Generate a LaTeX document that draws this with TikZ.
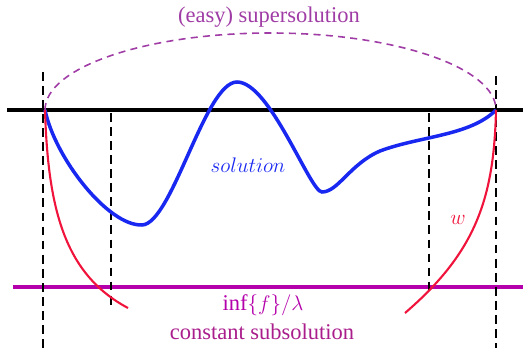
\documentclass[tikz,border=0pt]{standalone}
\usepackage{amsmath,amssymb}
\usepackage{fontspec}
\setmainfont{Liberation Serif}
\usepackage{tikz}
\usetikzlibrary{positioning}

\definecolor{solblue}{RGB}{25,40,240}
\definecolor{wred}{RGB}{240,20,60}
\definecolor{submag}{RGB}{180,0,170}
\definecolor{subtext}{RGB}{170,30,140}
\definecolor{superpurple}{RGB}{160,60,165}

\begin{document}
\begin{tikzpicture}[
  x=0.02cm, y=0.02cm,
  font=\fontsize{12.8}{15}\selectfont,
  guide/.style={dash pattern=on 5pt off 3pt, line width=0.7pt},
  domainline/.style={line width=2pt},
  solcurve/.style={solblue, line width=2pt},
  barrier/.style={wred, line width=1.2pt},
]
\useasboundingbox (0,0) rectangle (523,348);

% Domain and subsolution level
\draw[domainline] (7,238) coordinate (omL) -- (523,238) coordinate (omR);
\draw[submag, line width=2.6pt] (13,61) coordinate (subL) -- (523,61) coordinate (subR);

% Boundary and inner strips
\draw[guide] (43,276) coordinate (gA) -- (43,0) coordinate (gA');
\draw[guide] (111,235) coordinate (gB) -- (111,41) coordinate (gB');
\draw[guide] (429,235) coordinate (gC) -- (429,53) coordinate (gC');
\draw[guide] (496,272) coordinate (gD) -- (496,0) coordinate (gD');

% Supersolution
\coordinate (bL) at (45,238);
\coordinate (bR) at (496,238);
\draw[superpurple, dash pattern=on 4pt off 3pt, line width=0.9pt]
  (bL) arc[start angle=180, end angle=0, x radius=225.5, y radius=77];

% Solution
\coordinate (min1) at (142,123);
\coordinate (peak) at (237,266);
\coordinate (min2) at (322,156);
\draw[solcurve] (bL) .. controls (55,190) and (108,122) .. (min1)
  .. controls (172,124) and (205,266) .. (peak)
  .. controls (270,266) and (310,156) .. (min2)
  .. controls (338,156) and (350,184) .. (380,197)
  .. controls (420,212) and (470,212) .. (bR);

% Barriers w
\draw[barrier] (bL) .. controls (48,140) and (64,74) .. (128,40);
\draw[barrier] (bR) .. controls (494,150) and (476,96) .. (405,35);

% Labels
\node[superpurple] (superlbl) at (269,331) {(easy) supersolution};
\node (omega) at (323,253) {$\mathbf{\Omega}$};
\node[solblue] (sollbl) at (248,183) {$solution$};
\node[wred] (wlbl) at (458,128) {$w$};
\node[submag] (inflbl) at (263,43) {$\inf\{f\}/\lambda$};
\node[subtext] (sublbl) at (262,16) {constant subsolution};
\end{tikzpicture}
\end{document}
